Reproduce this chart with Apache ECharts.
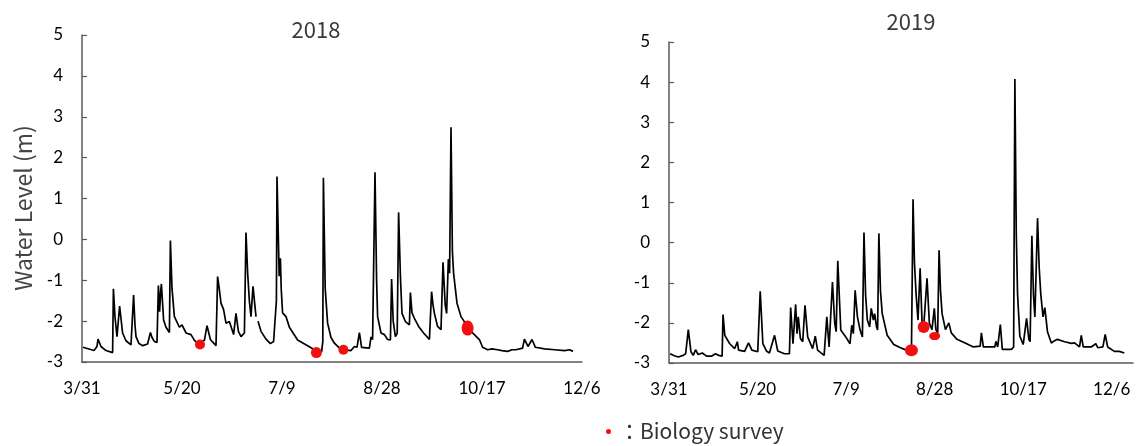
<!DOCTYPE html>
<html>
<head>
<meta charset="utf-8">
<script src="https://cdn.jsdelivr.net/npm/echarts@6/dist/echarts.min.js"></script>
<style>
html,body{margin:0;padding:0;background:#fff;}
#chart{width:1136px;height:446px;}
</style>
</head>
<body>
<div id="chart"></div>
<script>
// ---- DATA ----
// x values are days after 3/31
const dateLabels = ['3/31', '5/20', '7/9', '8/28', '10/17', '12/6'];
const yTickLabels = ['-3', '-2', '-1', '0', '1', '2', '3', '4', '5'];
const panelTitles = ['2018', '2019'];

const days2018 = [0.5,6,7.5,8,9.5,12,15.3,15.7,16.5,17.5,18.8,20.3,22,24.5,25.3,25.8,26.5,27,28.5,30.3,32.8,34.2,35,36.2,37.5,38.2,38.8,39.3,39.7,40.8,42,43.7,44.2,45,46.2,48.7,50,52,54.5,56.2,58,59,61.2,62.5,64.2,67,67.8,68.6,69.5,70.8,72,73.7,75.8,77,78.2,79.5,81.2,82,82.8,83.7,84.5,85.5,87,87.5,88,89.5,92,94.2,95.8,97.2,97.5,98.6,99.2,99.6,100.3,102,103.7,107.8,112.8,116.2,117.2,119.8,120.4,120.7,121.6,122.8,124.5,126.2,128.5,130.7,134.5,136.2,137.5,138.7,139.8,143.7,144.5,145.3,146.5,147.3,147.8,149.5,151.2,152.8,154.2,154.8,155.6,156.7,157.6,158.3,159.2,160,161.7,163.7,164.2,165,166.2,168.3,170.8,173.7,174.8,175.5,176.2,177.8,179.5,180.5,181.6,182.3,183.2,183.8,184.5,185.2,185.8,187.5,189.5,191,192.8,196.2,198.7,200.3,202.8,205,207.8,210,212.8,215,217,220.3,221.2,223,225,226.7,231.3,236.3,241.3,243.8,245.5];
const level2018 = [-2.64,-2.72,-2.62,-2.44,-2.62,-2.72,-2.77,-1.21,-1.9,-2.38,-1.63,-2.29,-2.48,-2.58,-2.55,-1.36,-2.1,-2.38,-2.55,-2.6,-2.56,-2.28,-2.4,-2.5,-2.52,-1.13,-1.77,-1.3,-1.09,-1.97,-2.15,-2.28,-0.03,-1.2,-1.89,-2.15,-2.09,-2.29,-2.33,-2.47,-2.55,-2.57,-2.47,-2.11,-2.45,-2.6,-0.91,-1.2,-1.56,-1.72,-2.05,-2.01,-2.33,-1.81,-2.25,-2.38,-2.29,0.17,-0.8,-1.52,-1.89,-1.15,-1.89,null,-2.0,-2.25,-2.44,-2.55,-2.5,-1.5,1.54,-0.9,-0.46,-1.2,-1.8,-1.89,-2.15,-2.46,-2.6,-2.7,-2.77,-2.75,-2.5,1.51,-1.2,-2.05,-2.4,-2.54,-2.65,-2.7,-2.72,-2.62,-2.64,-2.28,-2.64,-2.66,-2.39,-2.45,1.64,-1.0,-1.89,-2.29,-2.33,-2.45,-2.46,-0.97,-2.0,-2.38,-2.3,0.66,-0.9,-1.81,-2.01,-2.09,-1.3,-1.8,-1.93,-2.13,-2.29,-2.45,-1.28,-1.6,-1.81,-2.13,-2.21,-0.56,-1.6,-1.81,-0.48,-0.83,2.74,-0.3,-0.83,-1.56,-1.89,-2.0,-2.17,-2.33,-2.45,-2.64,-2.7,-2.68,-2.7,-2.72,-2.74,-2.7,-2.7,-2.66,-2.44,-2.62,-2.45,-2.64,-2.68,-2.7,-2.72,-2.7,-2.74];

const days2019 = [0.6,3,5.2,8,9.4,10.9,12.4,13.7,15,16.5,18.8,21.2,24,26.2,28.1,30,30.5,31.5,34.3,37.1,38.6,39.3,42.7,44.9,46.8,50.1,51.5,53,55,56.7,59.6,61.4,65.2,68,68.7,70,71.5,72.3,73,74.2,75.5,76.8,78.3,81.1,82.6,83.9,87.6,89.1,90.4,92.3,93.6,94.4,95.3,97,99.8,102.2,103.2,104.1,105.1,106.4,107.9,109.2,110.1,111,112,113.3,114.2,115.4,116.1,117.2,117.8,118.5,119.4,120.4,123.2,126.9,130.7,134,136.9,137.4,137.8,138.6,139.5,140.6,141.8,142.9,143.8,145.7,147,148.5,149.8,150.7,151.7,152.5,153.3,154.2,156.1,158,159.4,162.6,167.2,171.9,175.7,176.4,177.5,184,184.6,185.6,187.1,188.2,193.4,194.6,195.3,196.1,196.8,198.1,200,201.9,203.2,203.9,204.9,205.8,206.6,208.1,209,209.9,211.2,212.2,213.7,215.9,217.5,219.3,223.4,227.2,229,231.8,232.8,233.9,238.4,241,242.1,245,246.3,247.7,251.5,254.3,257.1];
const level2019 = [-2.77,-2.82,-2.85,-2.81,-2.77,-2.17,-2.72,-2.81,-2.67,-2.79,-2.75,-2.83,-2.83,-2.77,-2.81,-2.83,-1.79,-2.31,-2.52,-2.64,-2.47,-2.68,-2.71,-2.5,-2.68,-2.72,-1.21,-2.52,-2.7,-2.75,-2.31,-2.7,-2.77,-2.77,-1.62,-2.52,-1.54,-2.27,-1.85,-2.39,-2.47,-1.56,-2.35,-2.64,-2.33,-2.68,-2.81,-1.85,-2.6,-0.98,-2.02,-2.22,-0.45,-2.18,-2.35,-2.52,-2.06,-2.27,-1.19,-1.85,-2.18,-2.35,0.25,-1.3,-1.93,-2.1,-1.64,-1.93,-1.77,-2.1,-2.18,0.23,-1.2,-1.77,-2.31,-2.54,-2.62,-2.68,-2.7,-2.7,1.08,-0.5,-1.27,-1.93,-0.64,-2.0,-2.1,-0.89,-2.0,-2.17,-1.64,-2.17,-2.25,-0.19,-1.2,-1.77,-2.17,-2.0,-2.25,-2.41,-2.5,-2.6,-2.58,-2.25,-2.6,-2.6,-2.46,-2.6,-2.04,-2.66,-2.66,-2.6,4.08,0.2,-1.27,-2.33,-2.54,-1.89,-2.41,-2.47,0.17,-1.3,-1.85,0.61,-0.6,-1.27,-1.85,-1.62,-2.22,-2.5,-2.45,-2.41,-2.47,-2.51,-2.5,-2.6,-2.31,-2.6,-2.6,-2.52,-2.62,-2.6,-2.29,-2.6,-2.71,-2.71,-2.75];

const surveyDays2018 = [59, 117.2, 130.7, 192.8];
const surveyLevel2018 = [-2.57, -2.77, -2.70, -2.17];
const surveyDays2019 = [136.9, 143.8, 150];
const surveyLevel2019 = [-2.68, -2.1, -2.33];

const yAxisName = 'Water Level (m)';
const legendName = '：Biology survey';

// ---- STYLE (marker sizes per survey point) ----
const surveySize2018 = [[10,10],[11,11],[10,10],[12,15]];
const surveySize2019 = [[13,12],[12,12],[11,8]];

function pairs(xs, ys){ return xs.map((x,i)=>[x, ys[i]]); }

const tickFont = 'Lato, "Open Sans", sans-serif';
const axisColor = '#5a5a5a';

function xAxisCfg(idx, max){
  return {
    type:'value', gridIndex:idx, min:0, max:max, interval:50,
    axisLine:{show:true, onZero:false, lineStyle:{color:axisColor, width:1.5}},
    axisTick:{show:false}, splitLine:{show:false},
    axisLabel:{
      margin:18, fontSize:17, color:'#000', fontFamily:tickFont,
      formatter:function(v){ return (v % 50 === 0 && dateLabels[v/50] !== undefined) ? dateLabels[v/50] : ''; }
    }
  };
}
function yAxisCfg(idx){
  return {
    type:'value', gridIndex:idx, min:-3, max:5, interval:1,
    axisLine:{show:true, onZero:false, lineStyle:{color:axisColor, width:1.5}},
    axisTick:{show:true, inside:true, length:5, lineStyle:{color:axisColor, width:1.2}},
    splitLine:{show:false},
    axisLabel:{
      margin:19, fontSize:17, color:'#000', fontFamily:tickFont,
      formatter:function(v){ return yTickLabels[Math.round(v+3)]; }
    }
  };
}

const chart = echarts.init(document.getElementById('chart'), null, {renderer:'canvas'});
chart.setOption({
  animation:false,
  backgroundColor:'#fff',
  title:[
    {text:panelTitles[0], left:311, top:14, textAlign:'center',
     textStyle:{fontSize:22, fontWeight:'normal', color:'#3a3a3a', fontFamily:'"Noto Sans CJK JP", sans-serif'}},
    {text:panelTitles[1], left:906, top:6, textAlign:'center',
     textStyle:{fontSize:22, fontWeight:'normal', color:'#3a3a3a', fontFamily:'"Noto Sans CJK JP", sans-serif'}}
  ],
  grid:[
    {left:82, top:35, width:500, height:327},
    {left:669, top:42, width:466, height:321}
  ],
  xAxis:[xAxisCfg(0, 250), xAxisCfg(1, 262)],
  yAxis:[yAxisCfg(0), yAxisCfg(1)],
  legend:{
    data:[legendName], left:601, top:416, icon:'circle', itemWidth:5, itemHeight:5,
    textStyle:{fontSize:21, color:'#333', fontFamily:'"Noto Sans CJK JP", sans-serif', padding:[0,0,0,3]}
  },
  graphic:[
    {type:'text', x:23, y:208, rotation:Math.PI/2,
     style:{text:yAxisName, fontSize:23, fill:'#444', fontFamily:'"Noto Sans CJK JP", sans-serif', align:'center', verticalAlign:'middle'}}
  ],
  series:[
    {type:'line', xAxisIndex:0, yAxisIndex:0, data:pairs(days2018, level2018), showSymbol:false, symbol:'none',
     connectNulls:false, lineStyle:{color:'#000', width:1.7}, z:2},
    {type:'line', xAxisIndex:1, yAxisIndex:1, data:pairs(days2019, level2019), showSymbol:false, symbol:'none',
     lineStyle:{color:'#000', width:1.7}, z:2},
    {type:'scatter', name:legendName, xAxisIndex:0, yAxisIndex:0, data:pairs(surveyDays2018, surveyLevel2018),
     symbolSize:function(v, p){ return surveySize2018[p.dataIndex]; }, itemStyle:{color:'#f01010', opacity:1}, z:5},
    {type:'scatter', name:legendName, xAxisIndex:1, yAxisIndex:1, data:pairs(surveyDays2019, surveyLevel2019),
     symbolSize:function(v, p){ return surveySize2019[p.dataIndex]; }, itemStyle:{color:'#f01010', opacity:1}, z:5}
  ]
});
</script>
</body>
</html>
